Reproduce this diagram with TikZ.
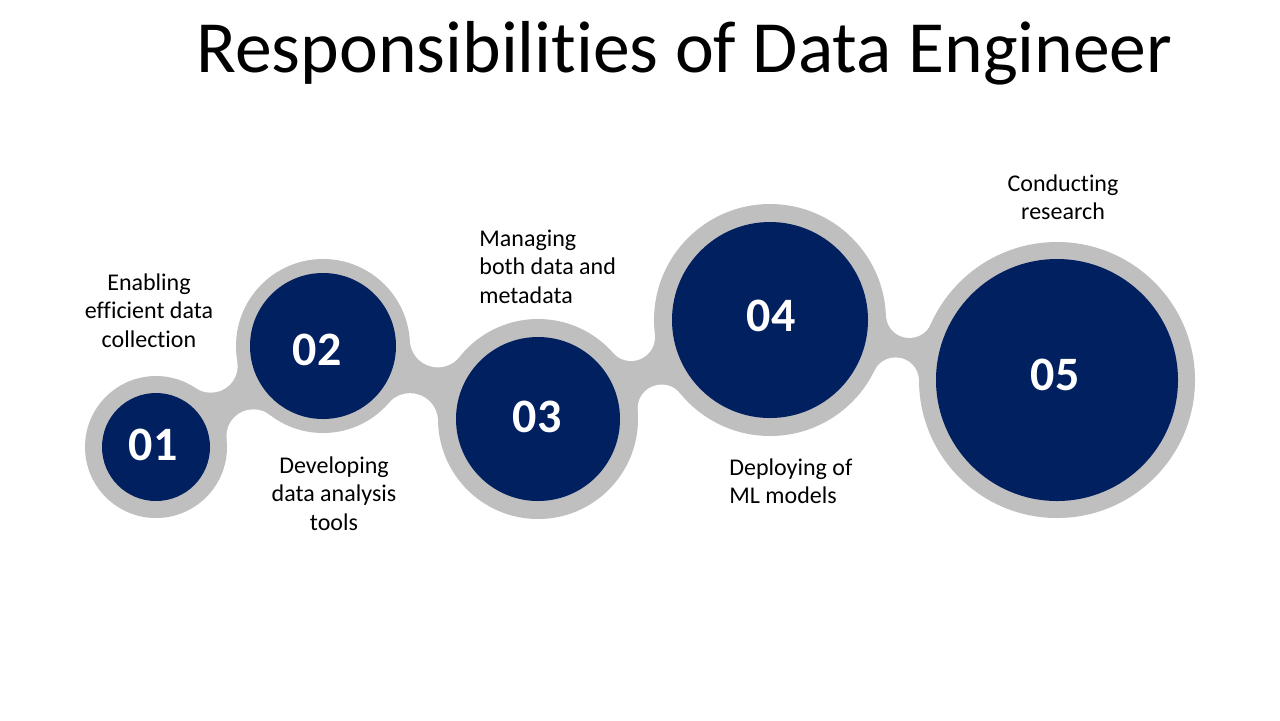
\documentclass[tikz,border=0pt]{standalone}
\usepackage{fontspec}
\setmainfont[Ligatures=NoCommon]{Carlito}
\definecolor{navy}{HTML}{002060}
\definecolor{ringgray}{HTML}{BFBFBF}
\begin{document}
\begin{tikzpicture}[x=0.5pt,y=-0.5pt,
  ring/.style={fill=ringgray,draw=none},
  core/.style={fill=navy,draw=none},
  notch/.style={fill=white,draw=none},
  num/.style={text=white,font=\fontsize{24}{28}\selectfont\bfseries,inner sep=0pt},
  lbl/.style={font=\fontsize{12}{14.35}\selectfont,inner sep=0pt,text=black},
  titlefont/.style={font=\fontsize{36.8}{40}\selectfont,inner sep=0pt,text=black}]
\useasboundingbox[fill=white] (0,0) rectangle (1280,720);

% circle centres
\coordinate (c1) at (156,447);
\coordinate (c2) at (323,346);
\coordinate (c3) at (538,419);
\coordinate (c4) at (770,320);
\coordinate (c5) at (1057,380);

% bridges between circles
\fill[ring] (c1) -- (195.64,388.09) -- (237.30,361.03) -- (c2) -- (269.89,414.92) -- (226.57,439.26) -- cycle;
\fill[ring] (c2) -- (409.86,340.95) -- (459.73,356.76) -- (c3) -- (438.01,420.71) -- (388.83,402.88) -- cycle;
\fill[ring] (c3) -- (613.04,352.90) -- (654.87,334.11) -- (c4) -- (680.16,393.35) -- (637.65,410.56) -- cycle;
\fill[ring] (c4) -- (885.92,315.40) -- (930.88,324.01) -- (c5) -- (919.02,380.76) -- (874.37,370.63) -- cycle;

% concave fillets
\fill[notch] (210.71,365.69) circle (27);
\fill[notch] (253.41,436.31) circle (27);
\fill[notch] (437.81,339.33) circle (28);
\fill[notch] (410.01,421.19) circle (28);
\fill[notch] (631.05,337.03) circle (24);
\fill[notch] (661.57,408.53) circle (24);
\fill[notch] (909.40,314.47) circle (23.5);
\fill[notch] (895.52,380.89) circle (23.5);

% rings
\fill[ring] (c1) circle (71);
\fill[ring] (c2) circle (87);
\fill[ring] (c3) circle (100);
\fill[ring] (c4) circle (116);
\fill[ring] (c5) circle (138);

% cores
\fill[core] (c1) circle (54);
\fill[core] (c2) circle (73);
\fill[core] (c3) circle (82);
\fill[core] (c4) circle (98);
\fill[core] (c5) circle (121);

% numbers
\node[num] (n1) at (153,445) {01};
\node[num] (n2) at (317,350) {02};
\node[num] (n3) at (537,417) {03};
\node[num] (n4) at (771,316) {04};
\node[num] (n5) at (1055,375) {05};

% title
\node[titlefont,anchor=base] (title) at (684.5,72) {Responsibilities of Data Engineer};

% labels
\node[lbl,anchor=base] (t1) at (149,290) {\begin{tabular}[t]{@{}c@{}}Enabling\\efficient data\\collection\end{tabular}};
\node[lbl,anchor=base] (t2) at (334,473) {\begin{tabular}[t]{@{}c@{}}Developing\\data analysis\\tools\end{tabular}};
\node[lbl,anchor=base west] (t3) at (479,246) {\begin{tabular}[t]{@{}l@{}}Managing\\both data and\\metadata\end{tabular}};
\node[lbl,anchor=base west] (t4) at (729,475) {\begin{tabular}[t]{@{}l@{}}Deploying of\\ML models\end{tabular}};
\node[lbl,anchor=base] (t5) at (1063,191) {\begin{tabular}[t]{@{}c@{}}Conducting\\research\end{tabular}};
\end{tikzpicture}
\end{document}
